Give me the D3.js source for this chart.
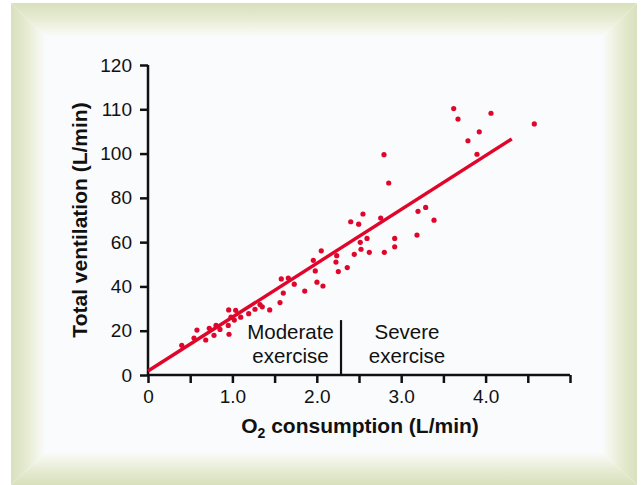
<!DOCTYPE html>
<meta charset="utf-8">
<head>
  <title>Ventilation vs O2 consumption</title>
</head>

<style>
  body { margin: 0; background: #ffffff; }
  text { font-family: "Liberation Sans", Arial, sans-serif; fill: #111; }
</style>

<body>

  <div id="my_dataviz"></div>

  <script src="https://d3js.org/d3.v7.min.js"></script>
  <script>

  // data
  var o2 = [0.40, 0.545, 0.58, 0.684, 0.726, 0.782, 0.806, 0.853, 0.951, 0.96,
            0.956, 1.039, 0.983, 1.023, 1.098, 1.193, 1.268, 1.327, 1.354, 1.442,
            1.564, 1.603, 1.579, 1.662, 1.733, 1.857, 1.959, 1.982, 2.002, 2.073,
            2.053, 2.236, 2.227, 2.255, 2.361, 2.444, 2.515, 2.524, 2.595, 2.622,
            2.402, 2.496, 2.547, 2.757, 2.80, 2.923, 2.923, 2.852, 2.796, 3.199,
            3.29, 3.389, 3.187, 3.622, 3.673, 4.064, 4.577, 3.925, 3.791, 3.898];
  var ventilation = [13.4, 16.7, 20.3, 15.8, 21.1, 17.9, 22.4, 20.6, 22.4, 18.4,
            29.4, 29.2, 26.1, 24.8, 26.1, 27.7, 29.7, 31.8, 30.8, 29.4,
            32.7, 37.0, 43.4, 43.8, 41.0, 37.9, 51.8, 47.0, 41.9, 40.2,
            56.1, 53.9, 51.0, 46.7, 48.5, 54.5, 59.9, 56.8, 61.7, 55.4,
            69.2, 68.1, 72.7, 70.9, 55.4, 61.7, 57.9, 86.7, 99.5, 73.9,
            75.7, 69.9, 63.2, 120.3, 115.6, 118.2, 113.4, 109.8, 105.8, 99.7];

  // fitted line end points
  var fitX = [0, 4.31];
  var fitY = [1.8, 106.6];

  // divider between the two zones
  var dividerX = 2.287;
  var dividerTop = 24.8;

  var xTicks = [0, 0.5, 1, 1.5, 2, 2.5, 3, 3.5, 4, 4.5, 5];
  var xTickLabels = {0: "0", 1: "1.0", 2: "2.0", 3: "3.0", 4: "4.0"};
  var yTicks = [0, 20, 40, 60, 80, 100, 120, 140];
  var yTickLabels = ["0", "20", "40", "60", "80", "100", "110", "120"];

  var red = "#e0062b";

  var W = 643, H = 485;
  var svg = d3.select("#my_dataviz")
    .append("svg")
      .attr("width", W)
      .attr("height", H);

  // framed panel with soft green border
  var outer = {x0: 11, y0: 3, x1: 637, y1: 485};
  var inner = {x0: 46, y0: 37, x1: 602, y1: 452};
  var defs = svg.append("defs");
  var sides = [
    {id: "gTop", g: [0, 0, 0, 1], pts: [[outer.x0, outer.y0], [outer.x1, outer.y0], [inner.x1, inner.y0], [inner.x0, inner.y0]], box: [outer.y0, inner.y0], dir: "v"},
    {id: "gBot", g: [0, 1, 0, 0], pts: [[outer.x0, outer.y1], [outer.x1, outer.y1], [inner.x1, inner.y1], [inner.x0, inner.y1]], box: [inner.y1, outer.y1], dir: "v"},
    {id: "gLeft", g: [0, 0, 1, 0], pts: [[outer.x0, outer.y0], [inner.x0, inner.y0], [inner.x0, inner.y1], [outer.x0, outer.y1]], box: [outer.x0, inner.x0], dir: "h"},
    {id: "gRight", g: [1, 0, 0, 0], pts: [[outer.x1, outer.y0], [inner.x1, inner.y0], [inner.x1, inner.y1], [outer.x1, outer.y1]], box: [inner.x1, outer.x1], dir: "h"}
  ];
  sides.forEach(function(s) {
    var lg = defs.append("linearGradient")
      .attr("id", s.id)
      .attr("x1", s.g[0]).attr("y1", s.g[1]).attr("x2", s.g[2]).attr("y2", s.g[3]);
    lg.append("stop").attr("offset", 0).attr("stop-color", "#d8e0bd");
    lg.append("stop").attr("offset", 0.45).attr("stop-color", "#e6ebd2");
    lg.append("stop").attr("offset", 0.8).attr("stop-color", "#f4f6ec");
    lg.append("stop").attr("offset", 1).attr("stop-color", "#fafbfd");
    svg.append("polygon")
      .attr("points", s.pts.map(function(p) { return p.join(","); }).join(" "))
      .style("fill", "url(#" + s.id + ")");
  });
  svg.append("rect")
    .attr("x", inner.x0).attr("y", inner.y0)
    .attr("width", inner.x1 - inner.x0).attr("height", inner.y1 - inner.y0)
    .style("fill", "#fafbfd");

  // scales
  var x = d3.scaleLinear().domain([0, 5]).range([148, 570]);
  var y = d3.scaleLinear().domain([0, 140]).range([375, 65]);

  // X axis
  var xAxis = svg.append("g")
    .attr("transform", "translate(0," + y(0) + ")")
    .call(d3.axisBottom(x).tickValues(xTicks).tickSize(8).tickPadding(7)
      .tickFormat(function(d) { return xTickLabels[d] || ""; }));
  xAxis.select(".domain").attr("stroke", "#111").attr("stroke-width", 2.5);
  xAxis.selectAll(".tick line").attr("stroke", "#111").attr("stroke-width", 2.5);
  xAxis.selectAll(".tick text").style("font-size", "19px").attr("fill", "#111")
    .style("font-family", "'Liberation Sans', Arial, sans-serif");

  // Y axis
  var yAxis = svg.append("g")
    .attr("transform", "translate(" + x(0) + ",0)")
    .call(d3.axisLeft(y).tickValues(yTicks).tickSize(8).tickPadding(8)
      .tickFormat(function(d, i) { return yTickLabels[i]; }));
  yAxis.select(".domain").attr("stroke", "#111").attr("stroke-width", 2.5);
  yAxis.selectAll(".tick line").attr("stroke", "#111").attr("stroke-width", 2.5);
  yAxis.selectAll(".tick text").style("font-size", "19px").attr("fill", "#111")
    .style("font-family", "'Liberation Sans', Arial, sans-serif");
  // domain path draws outer ticks, tidy it to a plain line
  xAxis.select(".domain").attr("d", "M" + x(0) + ",0H" + x(5));
  yAxis.select(".domain").attr("d", "M0," + y(0) + "V" + y(140));

  // divider line
  svg.append("line")
    .attr("x1", x(dividerX)).attr("x2", x(dividerX))
    .attr("y1", y(0)).attr("y2", y(dividerTop))
    .style("stroke", "#111").style("stroke-width", 2.2);

  // zone labels
  function zoneLabel(cx, lines) {
    var t = svg.append("text")
      .attr("text-anchor", "middle")
      .style("font-size", "20.5px");
    lines.forEach(function(l, i) {
      t.append("tspan").attr("x", cx).attr("y", 339 + i * 24).text(l);
    });
  }
  zoneLabel(290.5, ["Moderate", "exercise"]);
  zoneLabel(407, ["Severe", "exercise"]);

  // dots
  svg.selectAll("circle.pt")
    .data(o2)
    .enter()
    .append("circle")
      .attr("class", "pt")
      .attr("cx", function(d) { return x(d); })
      .attr("cy", function(d, i) { return y(ventilation[i]); })
      .attr("r", 2.6)
      .style("fill", red);

  // fitted line
  svg.append("line")
    .attr("x1", x(fitX[0])).attr("y1", y(fitY[0]))
    .attr("x2", x(fitX[1])).attr("y2", y(fitY[1]))
    .style("stroke", red).style("stroke-width", 3.4);

  // axis titles
  var xt = svg.append("text")
    .attr("x", 360).attr("y", 433)
    .attr("text-anchor", "middle")
    .style("font-size", "21px").style("font-weight", "bold");
  xt.append("tspan").text("O");
  xt.append("tspan").attr("dy", 5).style("font-size", "14px").text("2");
  xt.append("tspan").attr("dy", -5).text(" consumption (L/min)");

  svg.append("text")
    .attr("transform", "translate(87," + 220 + ") rotate(-90)")
    .attr("text-anchor", "middle")
    .style("font-size", "21px").style("font-weight", "bold")
    .text("Total ventilation (L/min)");

  </script>
</body>
</html>
